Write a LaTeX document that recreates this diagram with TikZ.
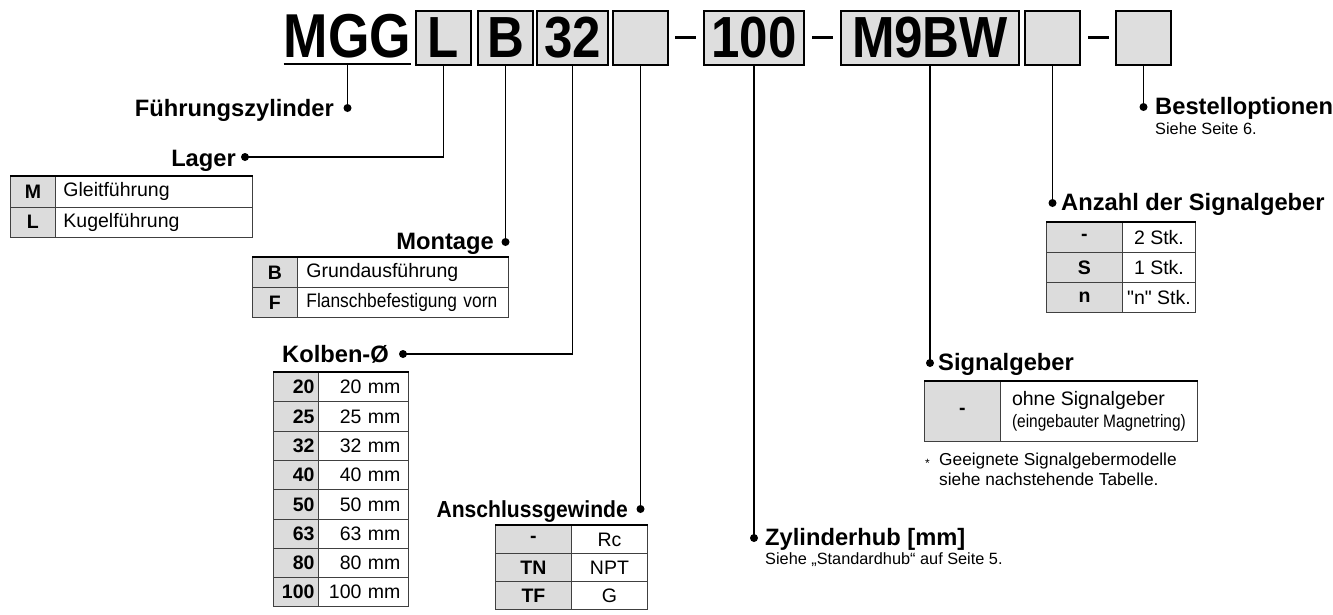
\documentclass[tikz,border=0pt]{standalone}
\usepackage{fontspec}
\setmainfont{Liberation Sans}
\newfontfamily\titlefont[FakeStretch=0.88]{Liberation Sans}
\newfontfamily\mggfont[FakeStretch=0.86]{Liberation Sans}
\newfontfamily\condfont[FakeStretch=0.86]{Liberation Sans}
\newfontfamily\narrowfont[FakeStretch=0.91]{Liberation Sans}
\newfontfamily\flanschfont[FakeStretch=0.89]{Liberation Sans}
\newfontfamily\rawfont[Ligatures=TeXOff]{Liberation Sans}
\definecolor{boxgray}{HTML}{DEDEDE}
\definecolor{codefill}{HTML}{DCDCDC}
\definecolor{tabline}{HTML}{404040}
\newcommand\mytitle{\titlefont\bfseries\fontsize{58}{58}\selectfont}
\newcommand\mylbl{\bfseries\fontsize{23.7}{24}\selectfont}
\newcommand\mytab{\fontsize{19.5}{21}\selectfont}
\newcommand\mytabb{\bfseries\fontsize{19.5}{21}\selectfont}
\newcommand\mysub{\fontsize{16.3}{18}\selectfont}
\newcommand\mynote{\fontsize{17.3}{20}\selectfont}
\tikzset{
  titlebox/.style={draw=black, fill=boxgray, line width=1.7pt, inner sep=0pt, minimum height=54pt, font=\mytitle},
  dashbar/.style={fill=black, inner sep=0pt, minimum width=21pt, minimum height=3pt},
  conn/.style={line width=1.5pt},
  dot/.style={circle, fill=black, inner sep=0pt, minimum size=8pt},
  lbl/.style={inner sep=0pt, font=\mylbl},
  sub/.style={inner sep=0pt, font=\mysub, anchor=base west},
  code/.style={draw=tabline, fill=codefill, line width=0.9pt, inner sep=0pt, anchor=north west, font=\mytabb},
  val/.style={draw=tabline, fill=white, line width=0.9pt, inner ysep=0pt, anchor=north west, font=\mytab},
  topline/.style={line width=2.2pt, black},
}
\begin{document}
\begin{tikzpicture}[x=1pt, y=-1pt]
\useasboundingbox (0,0) rectangle (1333,614);

% ---------- title code ----------
\node[inner sep=0pt, font=\mggfont\bfseries\fontsize{62}{62}\selectfont, anchor=base] (mgg) at (347.5,57) {MGG};
\draw[line width=1.7pt] ([yshift=-7pt]mgg.base west) -- ([yshift=-7pt]mgg.base east);
\coordinate (mggc) at ([yshift=-7pt]mgg.base);
\node[titlebox, minimum width=55pt] (bL) at (443.5,38) {L};
\node[titlebox, minimum width=55pt] (bB) at (505.5,38) {B};
\node[titlebox, minimum width=71pt] (b32) at (572.5,38) {32};
\node[titlebox, minimum width=55pt] (bE1) at (640.5,38) {};
\node[dashbar] (h1) at (685,37) {};
\node[titlebox, minimum width=100pt] (b100) at (754,38) {100};
\node[dashbar] (h2) at (822,37) {};
\node[titlebox, minimum width=178pt] (bM9) at (930,38) {M9BW};
\node[titlebox, minimum width=55pt] (bE2) at (1052.5,38) {};
\node[dashbar] (h3) at (1098.5,37) {};
\node[titlebox, minimum width=55pt] (bE3) at (1143.5,38) {};

% ---------- dots ----------
\node[dot] (dF) at (347.5,108) {};
\node[dot] (dL) at (245,157) {};
\node[dot] (dM) at (505.5,242) {};
\node[dot] (dK) at (403,354) {};
\node[dot] (dA) at (640.5,509) {};
\node[dot] (dZ) at (754,538) {};
\node[dot] (dS) at (930,363) {};
\node[dot] (dN) at (1052.5,203) {};
\node[dot] (dBO) at (1143.5,107) {};

% ---------- connectors ----------
\draw[conn] (mggc) -- (dF.center);
\draw[conn] (bL.south) |- (dL.center);
\draw[conn] (bB.south) -- (dM.center);
\draw[conn] (b32.south) |- (dK.center);
\draw[conn] (bE1.south) -- (dA.center);
\draw[conn] (b100.south) -- (dZ.center);
\draw[conn] (bM9.south) -- (dS.center);
\draw[conn] (bE2.south) -- (dN.center);
\draw[conn] (bE3.south) -- (dBO.center);

% ---------- labels ----------
\node[lbl, anchor=base east] (tF) at (334,116) {Führungszylinder};
\node[lbl, anchor=base east] (tL) at (236,166) {Lager};
\node[lbl, anchor=base east] (tM) at (494,249) {Montage};
\node[lbl, anchor=base east] (tK) at (389,362) {Kolben-Ø};
\node[lbl, anchor=base east, font=\narrowfont\bfseries\fontsize{23.2}{24}\selectfont] (tA) at (628,517) {Anschlussgewinde};
\node[lbl, anchor=base west] (tZ) at (765,545) {Zylinderhub [mm]};
\node[sub] (tZs) at (765,564) {Siehe „Standardhub“ auf Seite 5.};
\node[lbl, anchor=base west] (tS) at (938,370) {Signalgeber};
\node[lbl, anchor=base west] (tN) at (1061,210) {Anzahl der Signalgeber};
\node[lbl, anchor=base west] (tB) at (1155,114) {Bestelloptionen};
\node[sub] (tBs) at (1155,134) {Siehe Seite 6.};

% ---------- Lager table ----------
\node[code, minimum width=45pt, minimum height=30.5pt] (lgM) at (10,176) {M};
\node[val, minimum height=30.5pt, inner xsep=8pt, text width=181pt, align=left] (lgMv) at (55,176) {Gleitführung};
\node[code, minimum width=45pt, minimum height=30.5pt] (lgL) at (10,206.5) {L};
\node[val, minimum height=30.5pt, inner xsep=8pt, text width=181pt, align=left] (lgLv) at (55,206.5) {Kugelführung};
\draw[topline] (lgM.north west) -- (lgMv.north east);

% ---------- Montage table ----------
\node[code, minimum width=45pt, minimum height=30pt] (mtB) at (252,257) {B};
\node[val, minimum height=30pt, inner xsep=9pt, text width=193pt, align=left] (mtBv) at (297,257) {Grundausführung};
\node[code, minimum width=45pt, minimum height=30pt] (mtF) at (252,287) {F};
\node[val, minimum height=30pt, inner xsep=9pt, text width=193pt, align=left] (mtFv) at (297,287) {\mbox{\flanschfont Flanschbefestigung vorn}};
\draw[topline] (mtB.north west) -- (mtBv.north east);

% ---------- Kolben table ----------
\foreach \v [count=\i from 0] in {20,25,32,40,50,63,80,100} {
  \node[code, minimum height=29.3pt, inner xsep=4pt, text width=37pt, align=right] (kc\i) at (273,372+29.3*\i) {\v};
  \node[val, minimum height=29.3pt, inner xsep=8pt, text width=74pt, align=right] (kv\i) at (318,372+29.3*\i) {\v\ mm};
}
\draw[topline] (kc0.north west) -- (kv0.north east);

% ---------- Anschlussgewinde table ----------
\node[code, minimum width=76pt, minimum height=28pt] (ag1) at (495,525) {-};
\node[val, minimum width=76pt, minimum height=28pt, inner xsep=0pt] (ag1v) at (571,525) {Rc};
\node[code, minimum width=76pt, minimum height=28pt] (ag2) at (495,553) {TN};
\node[val, minimum width=76pt, minimum height=28pt, inner xsep=0pt] (ag2v) at (571,553) {NPT};
\node[code, minimum width=76pt, minimum height=28pt] (ag3) at (495,581) {TF};
\node[val, minimum width=76pt, minimum height=28pt, inner xsep=0pt] (ag3v) at (571,581) {G};
\draw[topline] (ag1.north west) -- (ag1v.north east);

% ---------- Signalgeber table ----------
\node[code, minimum width=76pt, minimum height=60pt] (sg1) at (924,381) {-};
\node[val, minimum width=197pt, minimum height=60pt, inner xsep=0pt, align=left] (sg1v) at (1000,381)
  {ohne Signalgeber\\[1pt]{\condfont\fontsize{18}{20}\selectfont(eingebauter Magnetring)}};
\draw[topline] (sg1.north west) -- (sg1v.north east);
\node[inner sep=0pt, font=\mynote, anchor=base west] (fn1) at (925,465)
  {\makebox[14pt][l]{\raisebox{-2pt}{\fontsize{12}{12}\selectfont*}}Geeignete Signalgebermodelle};
\node[inner sep=0pt, font=\mynote, anchor=base west] (fn2) at (939,485) {siehe nachstehende Tabelle.};

% ---------- Anzahl table ----------
\node[code, minimum width=76pt, minimum height=30pt] (an1) at (1046,222) {-};
\node[val, minimum width=73pt, minimum height=30pt, inner xsep=0pt] (an1v) at (1122,222) {2 Stk.};
\node[code, minimum width=76pt, minimum height=30pt] (an2) at (1046,252) {S};
\node[val, minimum width=73pt, minimum height=30pt, inner xsep=0pt] (an2v) at (1122,252) {1 Stk.};
\node[code, minimum width=76pt, minimum height=30pt] (an3) at (1046,282) {n};
\node[val, minimum width=73pt, minimum height=30pt, inner xsep=0pt] (an3v) at (1122,282) {{\rawfont"n"} Stk.};
\draw[topline] (an1.north west) -- (an1v.north east);
\end{tikzpicture}
\end{document}
